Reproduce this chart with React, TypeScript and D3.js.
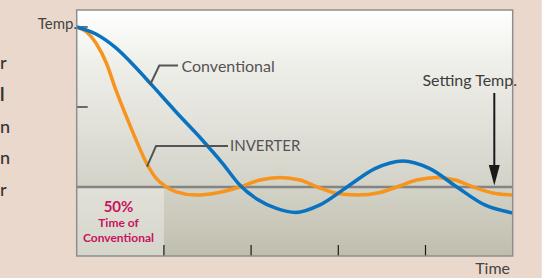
import * as React from "react";
import * as d3 from "d3";

// temperature curves (time in tick units, temp in deg)
const convTime = [0, 0.22, 0.45, 0.68, 0.85, 1.14, 1.44, 1.67, 1.87, 2.08, 2.29, 2.51, 2.79, 3.1, 3.42, 3.74, 4.05, 4.36, 4.68, 5.0];
const convTemp = [30, 29.56, 28.69, 27.45, 26.44, 24.69, 22.94, 21.5, 20.13, 19.2, 18.66, 18.41, 18.88, 20, 21.15, 21.63, 21.15, 20, 18.88, 18.38];

const invTime = [0, 0.11, 0.22, 0.34, 0.45, 0.57, 0.68, 0.8, 0.91, 1.03, 1.14, 1.37, 1.6, 1.87, 2.1, 2.33, 2.56, 2.76, 2.96, 3.22, 3.48, 3.67, 3.9, 4.13, 4.34, 4.55, 4.77, 5.0];
const invTemp = [30, 29.7, 29.0, 27.75, 26.05, 24.4, 22.95, 21.5, 20.55, 20.0, 19.7, 19.5, 19.63, 20.0, 20.44, 20.6, 20.44, 20.0, 19.63, 19.5, 19.66, 20.0, 20.44, 20.6, 20.44, 20.0, 19.63, 19.5];

const settingTemp = 20;
const yTicks = [30, 25];
const xTicks = [1, 2, 3, 4];
const halfTime = 1; // inverter reaches setting temp at half the time

const yLabel = "Temp.";
const xLabel = "Time";
const convLabel = "Conventional";
const invLabel = "INVERTER";
const settingLabel = "Setting Temp.";
const boxLines = ["50%", "Time of", "Conventional"];
// last letters of the paragraph cropped off at the left edge
const sideLetters = ["r", "l", "n", "n", "r"];

export default function App() {
  const W = 554;
  const H = 278;
  const left = 76.7, right = 512.7, top = 10, bottom = 256;

  const x = d3.scaleLinear().domain([0, 5]).range([left, right]);
  const y = d3.scaleLinear().domain([15.69, 31.06]).range([bottom, top]);

  const line = d3
    .line<[number, number]>()
    .x((d) => x(d[0]))
    .y((d) => y(d[1]))
    .curve(d3.curveMonotoneX);

  const conv = convTime.map((t, i) => [t, convTemp[i]] as [number, number]);
  const inv = invTime.map((t, i) => [t, invTemp[i]] as [number, number]);

  const ySet = y(settingTemp);
  const font = "Lato, 'Open Sans', sans-serif";
  const labelColor = "#545454";
  const arrowX = 494.3;

  return (
    <svg
      width={W}
      height={H}
      style={{ position: "absolute", left: 0, top: 0 }}
      fontFamily={font}
    >
      <defs>
        <linearGradient id="plotBg" x1="0" y1="0" x2="0" y2="1">
          <stop offset="0%" stopColor="#ffffff" />
          <stop offset="20%" stopColor="#f0f0eb" />
          <stop offset="55%" stopColor="#dddcd4" />
          <stop offset="72%" stopColor="#d3d2c7" />
          <stop offset="100%" stopColor="#c0bfae" />
        </linearGradient>
        <linearGradient id="boxBg" x1="0" y1="0" x2="0" y2="1">
          <stop offset="0%" stopColor="#e1e1d9" />
          <stop offset="100%" stopColor="#d5d5cb" />
        </linearGradient>
      </defs>

      <rect x={0} y={0} width={W} height={H} fill="#ffffff" />
      <rect x={0} y={0} width={541.7} height={H} fill="#ebd8cd" />

      {sideLetters.map((c, i) => (
        <text
          key={i}
          x={0}
          y={69 + i * 31.8}
          fontSize={18}
          fontWeight={i === 1 ? 700 : 500}
          fill="#333"
        >
          {c}
        </text>
      ))}

      <rect x={left} y={top} width={right - left} height={bottom - top} fill="url(#plotBg)" />
      <rect x={left} y={ySet} width={x(halfTime) - left} height={bottom - ySet} fill="url(#boxBg)" />

      {/* ticks */}
      {yTicks.map((t) => (
        <line key={t} x1={left} x2={left + 11} y1={y(t)} y2={y(t)} stroke="#1a1a1a" strokeWidth={1.2} />
      ))}
      {xTicks.map((t) => (
        <line key={t} x1={x(t)} x2={x(t)} y1={bottom - 11} y2={bottom} stroke="#1a1a1a" strokeWidth={1.2} />
      ))}

      <line x1={left} x2={right} y1={ySet} y2={ySet} stroke="#848484" strokeWidth={2.5} />

      <path d={line(inv) ?? ""} fill="none" stroke="#f7941e" strokeWidth={3.5} />
      <path d={line(conv) ?? ""} fill="none" stroke="#0a73c1" strokeWidth={3.5} />

      <rect x={left} y={top} width={right - left} height={bottom - top} fill="none" stroke="#8e8e8e" strokeWidth={1.5} />

      {/* leaders and labels */}
      <polyline points="150,85 159.3,65.5 178,65.5" fill="none" stroke={labelColor} strokeWidth={2} />
      <text x={181.5} y={71.7} fontSize={16} fill={labelColor}>{convLabel}</text>
      <polyline points="147,166.7 156,146 228,146" fill="none" stroke={labelColor} strokeWidth={2} />
      <text x={230} y={151} fontSize={15} fill={labelColor}>{invLabel}</text>

      <text x={517} y={86} fontSize={16} textAnchor="end" fill="#3d3d3d">{settingLabel}</text>
      <line x1={arrowX} x2={arrowX} y1={93} y2={168} stroke="#1a1a1a" strokeWidth={2} />
      <path d={`M${arrowX - 5.5},165 L${arrowX + 5.5},165 L${arrowX},${ySet - 1.5} Z`} fill="#1a1a1a" />

      <text x={77} y={29} fontSize={15} textAnchor="end" fill="#444">{yLabel}</text>
      <text x={510} y={274} fontSize={16} textAnchor="end" fill="#444">{xLabel}</text>

      {/* 50% box text */}
      <g fill="#c8135e" fontWeight={700} textAnchor="middle">
        <text x={118.5} y={211.7} fontSize={15}>{boxLines[0]}</text>
        <text x={118.5} y={227} fontSize={12}>{boxLines[1]}</text>
        <text x={118.5} y={241.7} fontSize={12}>{boxLines[2]}</text>
      </g>
    </svg>
  );
}
